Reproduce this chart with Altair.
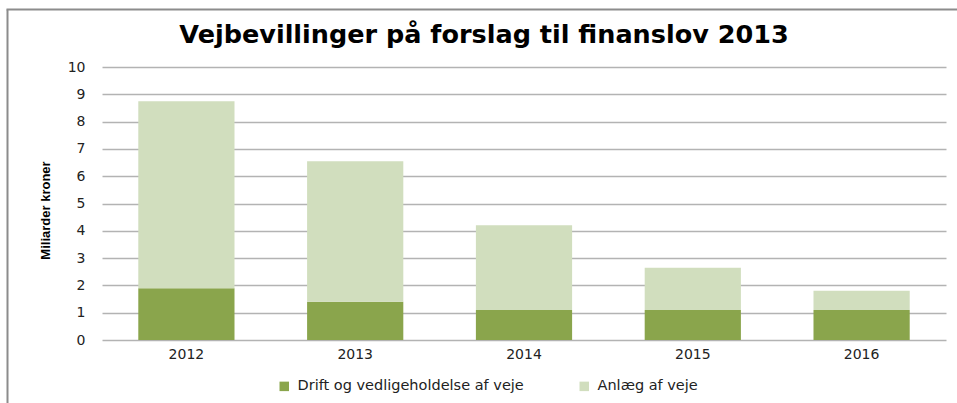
import altair as alt
import pandas as pd

years = ["2012", "2013", "2014", "2015", "2016"]
drift = [1.9, 1.4, 1.1, 1.1, 1.1]
anlaeg = [6.85, 5.15, 3.1, 1.55, 0.7]
series = ["Drift og vedligeholdelse af veje", "Anlæg af veje"]
colors = ["#8AA54C", "#D1DEBE"]
y_ticks = list(range(0, 11))

rows = []
for i, yr in enumerate(years):
    rows.append({"year": yr, "series": series[0], "value": drift[i], "ord": 0})
    rows.append({"year": yr, "series": series[1], "value": anlaeg[i], "ord": 1})
df = pd.DataFrame(rows)

bars = alt.Chart(df).mark_bar().encode(
    x=alt.X("year:N", sort=years,
            scale=alt.Scale(paddingInner=0.43, paddingOuter=0.215),
            axis=alt.Axis(title=None, labelAngle=0, labelFont="DejaVu Sans",
                          labelFontSize=14, labelColor="#222", labelPadding=7,
                          ticks=False, domain=False, grid=False)),
    y=alt.Y("value:Q", stack="zero",
            scale=alt.Scale(domain=[0, 10], nice=False),
            axis=alt.Axis(title="Miliarder kroner", values=y_ticks,
                          labelFont="DejaVu Sans", labelFontSize=14, labelColor="#222",
                          labelPadding=17, ticks=False, domain=False,
                          gridColor="#B3B3B3", gridWidth=1.5,
                          titleFont="Liberation Sans", titleFontSize=13,
                          titleFontWeight="bold", titleColor="#000",
                          titleAngle=270, titleX=-57, titleY=143,
                          titleAlign="center", titleBaseline="middle")),
    color=alt.Color("series:N", sort=series,
                    scale=alt.Scale(domain=series, range=colors),
                    legend=alt.Legend(title=None, orient="none", direction="horizontal",
                                      legendX=175, legendY=312,
                                      symbolType="square", symbolSize=90,
                                      symbolStrokeWidth=0, labelLimit=400,
                                      labelFont="DejaVu Sans", labelFontSize=14.5,
                                      labelColor="#222", columnPadding=53,
                                      labelOffset=6)),
    order=alt.Order("ord:Q"),
)

frame_data = alt.Data(values=[{"k": 1}])
left_line = alt.Chart(frame_data).mark_rule(color="#8C8C8C", strokeWidth=2).encode(
    x=alt.value(-94.5), y=alt.value(-57.5), y2=alt.value(340))
top_line = alt.Chart(frame_data).mark_rule(color="#8C8C8C", strokeWidth=2).encode(
    x=alt.value(-95.5), x2=alt.value(870), y=alt.value(-57.5))

chart = alt.layer(bars, left_line, top_line).properties(
    width=844, height=273,
    autosize=alt.AutoSizeParams(type="none"),
    padding={"left": 102, "top": 67, "right": 11, "bottom": 63},
    background="white",
    title=alt.TitleParams("Vejbevillinger på forslag til finanslov 2013",
                          font="DejaVu Sans", fontSize=25.5, fontWeight="bold",
                          color="#000", anchor="middle", frame="group",
                          dx=-40, dy=60, offset=0,
                          baseline="alphabetic"),
).configure_view(stroke=None)

chart.save("out.html", embed_options={"renderer": "svg", "actions": False})
